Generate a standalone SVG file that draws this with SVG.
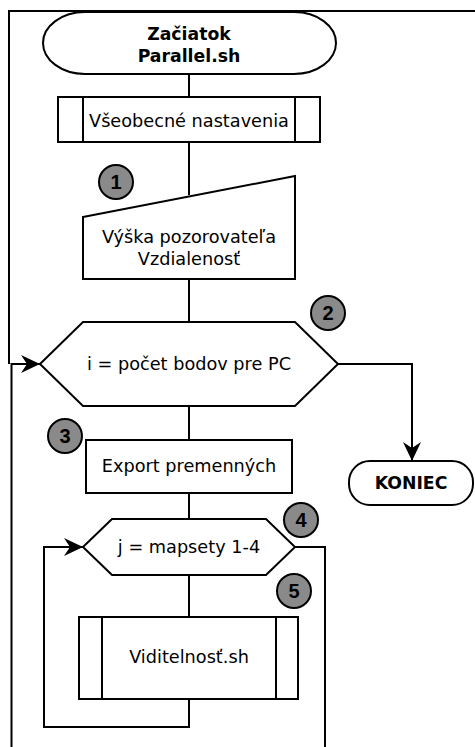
<svg xmlns="http://www.w3.org/2000/svg" width="475" height="747" viewBox="0 0 475 747">
  <style>
    .shape { fill: #fff; stroke: #000; stroke-width: 2; }
    .wire { fill: none; stroke: #000; stroke-width: 2; }
    .badge { fill: #8a8a8a; stroke: #000; stroke-width: 2; }
    .t { font-family: "DejaVu Sans", sans-serif; font-size: 17.7px; fill: #000; text-anchor: middle; }
    .b { font-weight: bold; font-size: 17.3px; }
    .n { font-family: "Liberation Sans", Arial, sans-serif; font-size: 20px; font-weight: bold; fill: #000; text-anchor: middle; }
  </style>
  <defs>
    <marker id="arrow" markerWidth="20" markerHeight="20" refX="19" refY="10" orient="auto" markerUnits="userSpaceOnUse">
      <path d="M0,1 L19,10 L0,19 L6,10 Z" fill="#000"/>
    </marker>
  </defs>
  <rect width="475" height="747" fill="#fff"/>

  <!-- connectors -->
  <g id="connectors">
    <path class="wire" d="M8,11 H475 M9,11 V364"/>
    <path class="wire" d="M189,74 V97"/>
    <path class="wire" d="M189,142 V195"/>
    <path class="wire" d="M189,279 V322"/>
    <path class="wire" d="M189,406 V440"/>
    <path class="wire" d="M189,493 V519"/>
    <path class="wire" d="M189,575 V617"/>
    <path class="wire" d="M338,364 H412 V461" marker-end="url(#arrow)"/>
    <path class="wire" d="M11.5,747 V364 H40" marker-end="url(#arrow)"/>
    <path class="wire" d="M295,547 H325 V747"/>
    <path class="wire" d="M189,699 V727 H44 V547 H83" marker-end="url(#arrow)"/>
  </g>

  <g id="start">
    <rect class="shape" x="43" y="12" width="293" height="62" rx="42" ry="31"/>
    <text class="t b" x="189" y="40">Začiatok</text>
    <text class="t b" x="189" y="62">Parallel.sh</text>
  </g>

  <g id="settings">
    <rect class="shape" x="58" y="97" width="262" height="45"/>
    <path class="wire" d="M83,97 V142 M295,97 V142"/>
    <text class="t" x="189" y="127">Všeobecné nastavenia</text>
  </g>

  <g id="input">
    <path class="shape" d="M83,217 L295,176 V279 H83 Z"/>
    <text class="t" x="189" y="243">Výška pozorovateľa</text>
    <text class="t" x="189" y="265">Vzdialenosť</text>
  </g>

  <g id="loop-i">
    <path class="shape" d="M40,364 L83,322 H295 L338,364 L295,406 H83 Z"/>
    <text class="t" x="189" y="370">i = počet bodov pre PC</text>
  </g>

  <g id="export">
    <rect class="shape" x="86" y="440" width="206" height="53"/>
    <text class="t" x="189" y="472">Export premenných</text>
  </g>

  <g id="end">
    <rect class="shape" x="349" y="461" width="124" height="44" rx="21" ry="21"/>
    <text class="t b" x="411" y="489">KONIEC</text>
  </g>

  <g id="loop-j">
    <path class="shape" d="M83,547 L112,519 H266 L295,547 L266,575 H112 Z"/>
    <text class="t" x="189" y="553">j = mapsety 1-4</text>
  </g>

  <g id="visibility">
    <rect class="shape" x="79" y="617" width="219" height="82"/>
    <path class="wire" d="M102,617 V699 M276,617 V699"/>
    <text class="t" x="189" y="663">Viditelnosť.sh</text>
  </g>

  <g id="badge-1">
    <circle class="badge" cx="116" cy="182" r="17"/>
    <text class="n" x="116" y="189">1</text>
  </g>
  <g id="badge-2">
    <circle class="badge" cx="328" cy="313" r="17"/>
    <text class="n" x="328" y="320">2</text>
  </g>
  <g id="badge-3">
    <circle class="badge" cx="65" cy="436" r="17"/>
    <text class="n" x="65" y="443">3</text>
  </g>
  <g id="badge-4">
    <circle class="badge" cx="301" cy="520" r="17"/>
    <text class="n" x="301" y="527">4</text>
  </g>
  <g id="badge-5">
    <circle class="badge" cx="294" cy="591" r="17"/>
    <text class="n" x="294" y="598">5</text>
  </g>
</svg>
